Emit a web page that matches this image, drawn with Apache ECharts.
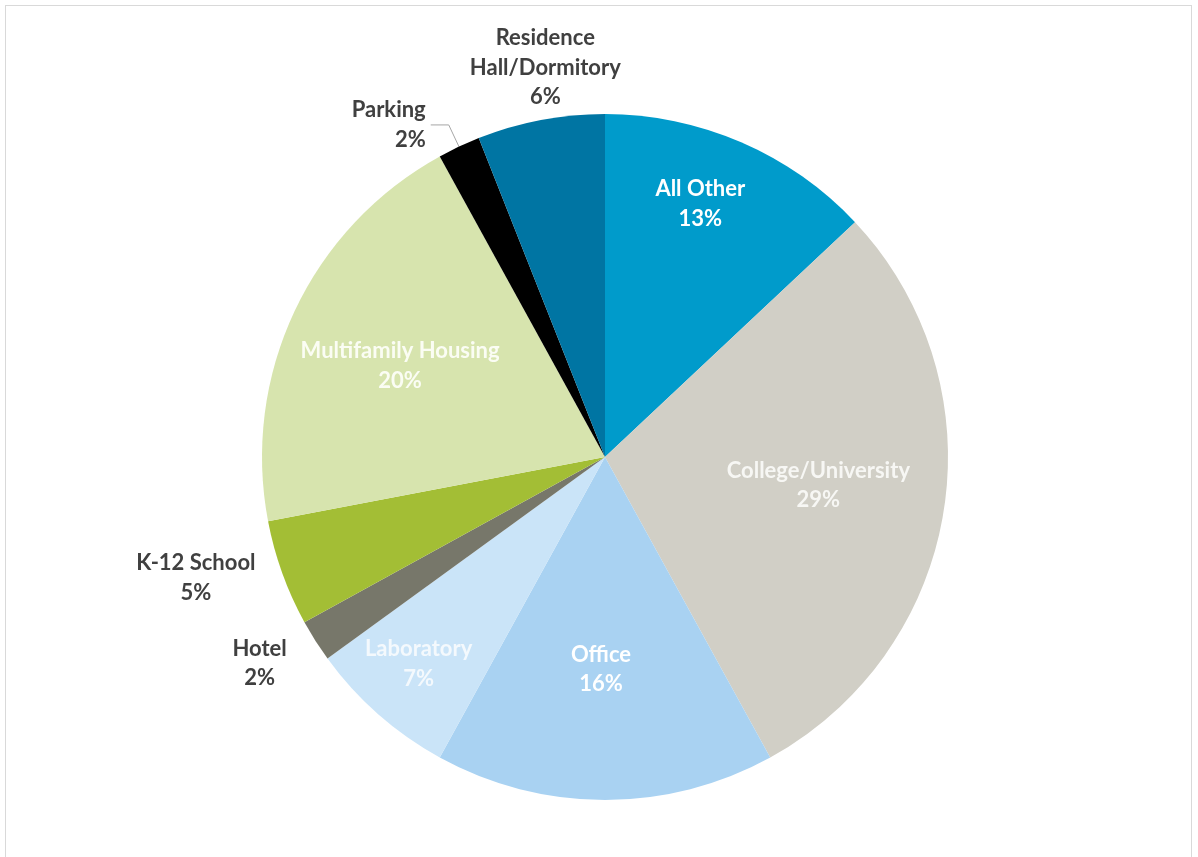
<!DOCTYPE html>
<html>
<head>
<meta charset="utf-8">
<title>Projects by Building Type</title>
<script src="https://cdn.jsdelivr.net/npm/echarts@6/dist/echarts.min.js"></script>
<style>
  html, body { margin: 0; padding: 0; background: #fff; overflow: hidden; }
  #frame { position: absolute; left: 5px; top: 5px; width: 1187px; height: 900px; border: 1px solid #d9d9d9; box-sizing: border-box; }
  #chart { position: absolute; left: 0; top: 0; width: 1198px; height: 857px; }
</style>
</head>
<body>
<div id="frame"></div>
<div id="chart"></div>
<script>
// Share of projects by building type (percent), clockwise from the top
const categories = ['All Other', 'College/University', 'Office', 'Laboratory', 'Hotel',
  'K-12 School', 'Multifamily Housing', 'Parking', 'Residence\nHall/Dormitory'];
const shares = [13, 29, 16, 7, 2, 5, 20, 2, 6];

const sliceColors = ['#009bcb', '#d1cfc6', '#a9d2f2', '#cae4f8', '#77776a',
  '#a3be35', '#d7e4ae', '#000000', '#0075a3'];

// label placement relative to the slice's inner anchor
const labelStyle = {
  'All Other': { offset: [26, -93], color: '#ffffff' },
  'College/University': { offset: [41, 1], color: '#f7f7f4' },
  'Office': { offset: [-4, 38], color: '#ffffff' },
  'Laboratory': { offset: [-71, 76], color: '#f4f9fd' },
  'Hotel': { offset: [-198, 113], color: '#404040' },
  'K-12 School': { offset: [-245, 62], color: '#404040' },
  'Multifamily Housing': { offset: [-47, -17], color: '#fbfdf4' },
  'Residence\nHall/Dormitory': { offset: [-27, -218], color: '#404040' }
};

const data = categories.map((name, i) => {
  const item = { name: name, value: shares[i], itemStyle: { color: sliceColors[i] } };
  const ls = labelStyle[name];
  if (ls) {
    item.label = { position: 'inside', offset: ls.offset, color: ls.color };
    item.labelLine = { show: false };
  } else {
    item.label = { position: 'outside', color: '#404040', alignTo: 'none' };
    item.labelLine = { show: true, length: 24, length2: 18,
      lineStyle: { color: '#a6a6a6', width: 1 } };
  }
  return item;
});

const chart = echarts.init(document.getElementById('chart'), null, { renderer: 'canvas' });
chart.setOption({
  animation: false,
  backgroundColor: 'transparent',
  series: [{
    type: 'pie',
    center: [605, 457],
    radius: [0, 343],
    startAngle: 90,
    clockwise: true,
    avoidLabelOverlap: false,
    data: data,
    itemStyle: { borderWidth: 0 },
    label: {
      show: true,
      formatter: p => p.name + '\n' + p.value + '%',
      fontFamily: 'Lato',
      fontWeight: 'bold',
      fontSize: 22,
      lineHeight: 29.5,
      align: 'center'
    },
    emphasis: { disabled: true }
  }]
});
</script>
</body>
</html>
